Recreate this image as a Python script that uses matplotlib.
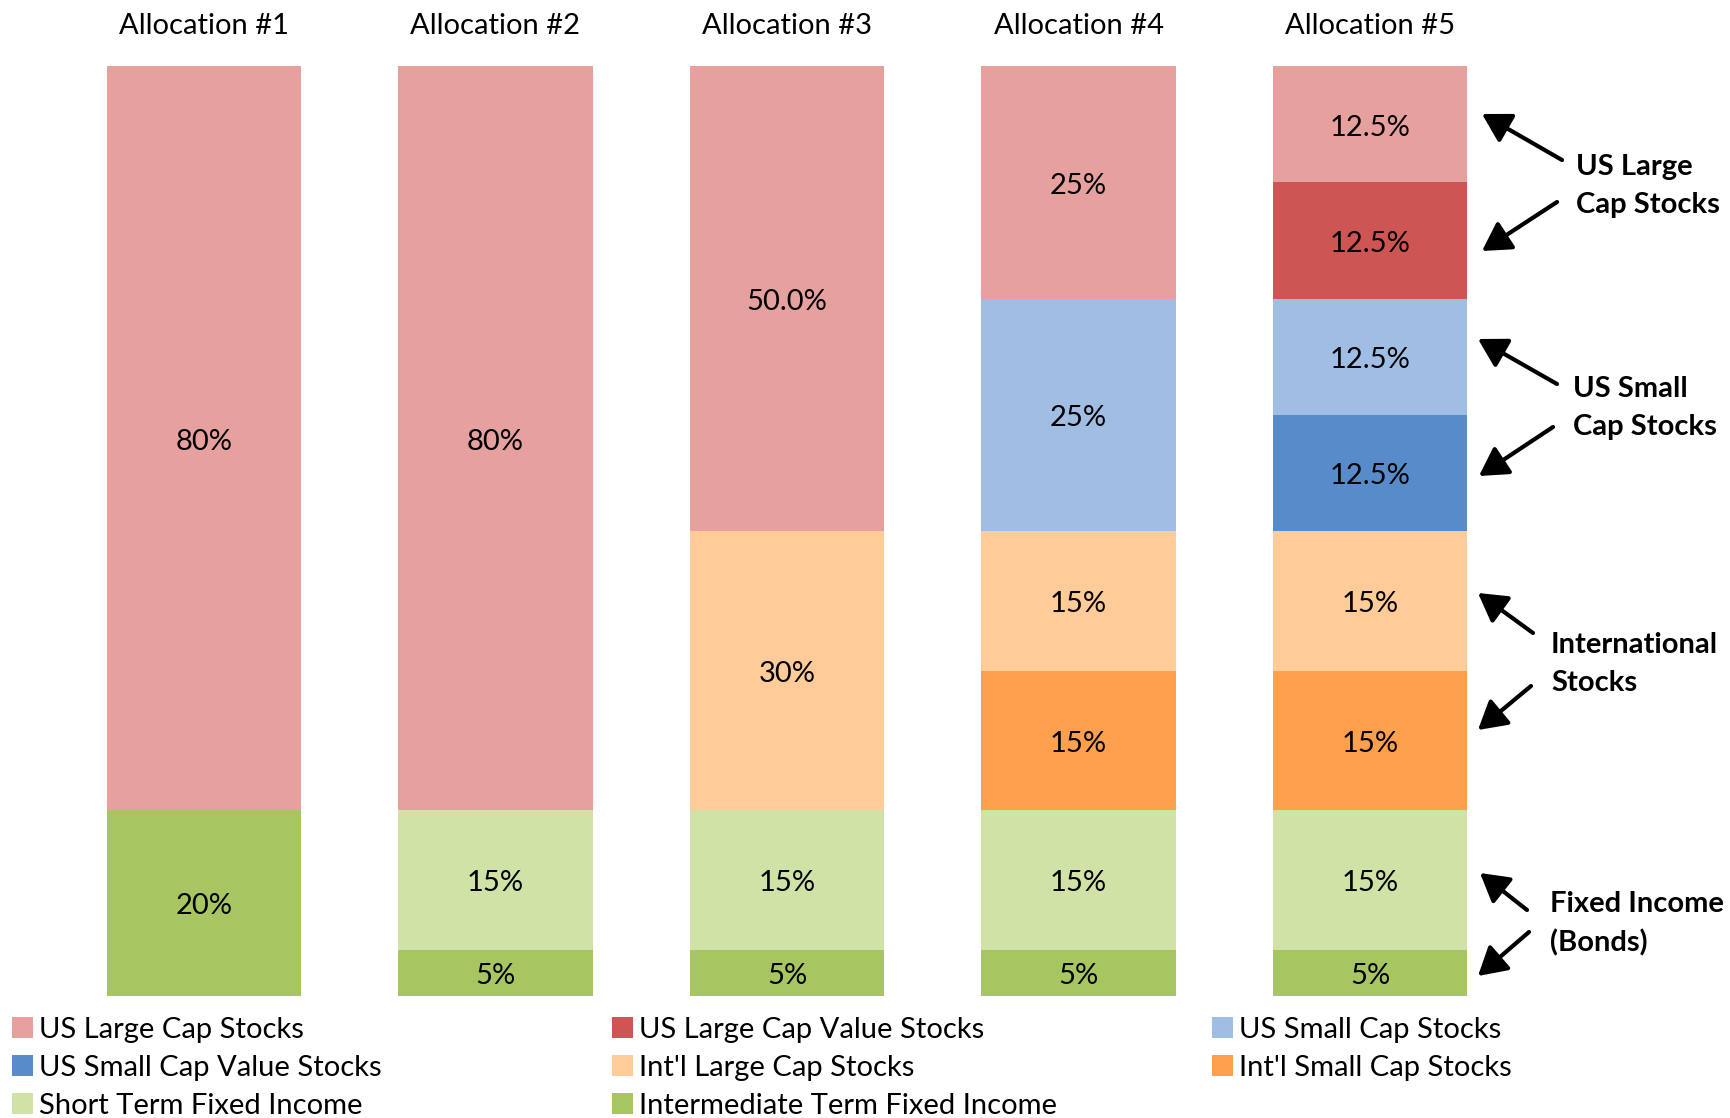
import matplotlib
matplotlib.use("Agg")
import matplotlib.pyplot as plt
from matplotlib.patches import Patch, FancyArrowPatch

plt.rcParams['font.family'] = ['Lato', 'DejaVu Sans']

# ---- data ----
categories = ["Allocation #1", "Allocation #2", "Allocation #3", "Allocation #4", "Allocation #5"]
series_names = ["US Large Cap Stocks", "US Large Cap Value Stocks", "US Small Cap Stocks",
                "US Small Cap Value Stocks", "Int'l Large Cap Stocks", "Int'l Small Cap Stocks",
                "Short Term Fixed Income", "Intermediate Term Fixed Income"]
us_large = [80, 80, 50, 25, 12.5]
us_large_value = [0, 0, 0, 0, 12.5]
us_small = [0, 0, 0, 25, 12.5]
us_small_value = [0, 0, 0, 0, 12.5]
intl_large = [0, 0, 30, 15, 15]
intl_small = [0, 0, 0, 15, 15]
short_term = [0, 15, 15, 15, 15]
intermediate = [20, 5, 5, 5, 5]
us_large_labels = ["80%", "80%", "50.0%", "25%", "12.5%"]

colors = {
    "US Large Cap Stocks": "#E6A19F",
    "US Large Cap Value Stocks": "#CD5553",
    "US Small Cap Stocks": "#A0BEE4",
    "US Small Cap Value Stocks": "#588BC9",
    "Int'l Large Cap Stocks": "#FFCB99",
    "Int'l Small Cap Stocks": "#FFA04E",
    "Short Term Fixed Income": "#D0E2A6",
    "Intermediate Term Fixed Income": "#A7C661",
}

W, H = 1731, 1118
fig = plt.figure(figsize=(W / 100, H / 100), dpi=100)
ax = fig.add_axes([0, (H - 996) / H, 1, (996 - 66) / H])
ax.set_xlim(-204 / 291.5, (W - 204) / 291.5)
ax.set_ylim(0, 100)
ax.axis('off')

# stacking order bottom -> top
stack = [
    ("Intermediate Term Fixed Income", intermediate, None),
    ("Short Term Fixed Income", short_term, None),
    ("Int'l Small Cap Stocks", intl_small, None),
    ("Int'l Large Cap Stocks", intl_large, None),
    ("US Small Cap Value Stocks", us_small_value, None),
    ("US Small Cap Stocks", us_small, None),
    ("US Large Cap Value Stocks", us_large_value, None),
    ("US Large Cap Stocks", us_large, us_large_labels),
]

x = list(range(len(categories)))
bottoms = [0.0] * len(categories)
fs = 21
dy = -3.5 / 930 * 100  # small downward nudge of labels
for name, vals, labs in stack:
    ax.bar(x, vals, bottom=bottoms, width=0.666, color=colors[name], linewidth=0, label=name)
    for i, v in enumerate(vals):
        if v > 0:
            s = labs[i] if labs is not None else f"{v:g}%"
            ax.text(i, bottoms[i] + v / 2 + dy, s, ha='center', va='center', fontsize=fs, color='black')
    bottoms = [b + v for b, v in zip(bottoms, vals)]

for i, c in enumerate(categories):
    ax.text(i, 100 + (66 - 26) / 930 * 100, c, ha='center', va='center', fontsize=fs,
            clip_on=False)


def fp(px, py):
    return (px / W, 1 - py / H)

# annotations: (text, text_left_px, text_center_y_px, arrows list)
annots = [
    ("US Large\nCap Stocks", 1576, 186, [((1562, 160), (1482, 114)), ((1557, 202), (1482, 251))]),
    ("US Small\nCap Stocks", 1573, 408, [((1557, 384), (1478, 339)), ((1553, 427), (1479, 476))]),
    ("International\nStocks", 1551, 664, [((1533, 633), (1478, 593)), ((1531, 686), (1478, 730))]),
    ("Fixed Income\n(Bonds)", 1550, 924, [((1527, 910), (1480, 873)), ((1529, 932), (1478, 976))]),
]
for txt, tx, ty, arrows in annots:
    fig.text(*fp(tx, ty), txt, ha='left', va='center', fontsize=fs, fontweight='bold',
             linespacing=1.55)
    for (t0, h0) in arrows:
        fig.add_artist(FancyArrowPatch(
            fp(*t0), fp(*h0), transform=fig.transFigure,
            arrowstyle='-|>,head_length=0.95,head_width=0.55', mutation_scale=18,
            color='black', linewidth=3, shrinkA=0, shrinkB=0))

# legend: three columns (row-major order as in the reference)
handles = {name: Patch(facecolor=colors[name], edgecolor='none') for name in series_names}
cols = [
    ["US Large Cap Stocks", "US Small Cap Value Stocks", "Short Term Fixed Income"],
    ["US Large Cap Value Stocks", "Int'l Large Cap Stocks", "Intermediate Term Fixed Income"],
    ["US Small Cap Stocks", "Int'l Small Cap Stocks"],
]
col_x = [12, 612, 1212]
for cx, names in zip(col_x, cols):
    fig.legend([handles[n] for n in names], names, loc='upper left',
               bbox_to_anchor=fp(cx, 1017), frameon=False, fontsize=fs,
               borderpad=0, borderaxespad=0, handlelength=0.72, handleheight=0.72,
               handletextpad=0.22, labelspacing=0.41)

fig.savefig("out.png", dpi=100)
